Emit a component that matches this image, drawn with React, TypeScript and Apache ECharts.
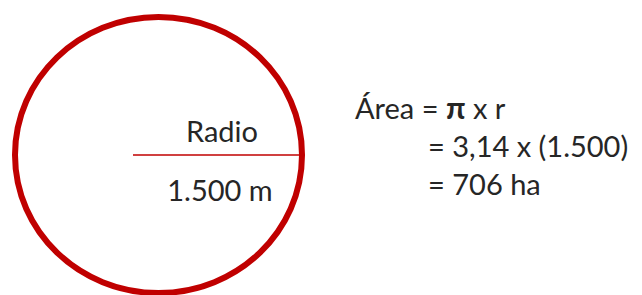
import React, { useEffect, useRef } from "react";
import * as echarts from "echarts";

// Diagram content
const radiusLabel = "Radio";
const radiusValue = "1.500 m";
const formulaLines = ["Área = {pi|π} x r", "= 3,14 x (1.500)", "= 706 ha"];

const RED = "#C00000";
const TEXT = "#262626";
const FONT = "Lato";

export default function App() {
  const ref = useRef<HTMLDivElement>(null);
  useEffect(() => {
    document.body.style.margin = "0";
    if (!ref.current) return;
    const chart = echarts.init(ref.current, undefined, { renderer: "svg" });
    chart.setOption({
      animation: false,
      backgroundColor: "#ffffff",
      graphic: [
        {
          type: "ellipse",
          shape: { cx: 158.5, cy: 155, rx: 143.5, ry: 138 },
          style: { fill: "none", stroke: RED, lineWidth: 6 },
        },
        {
          type: "line",
          shape: { x1: 133, y1: 155, x2: 302, y2: 155 },
          style: { stroke: RED, lineWidth: 1.5 },
        },
        {
          type: "text",
          x: 222,
          y: 130,
          style: {
            text: radiusLabel,
            fill: TEXT,
            font: `29px ${FONT}`,
            align: "center",
            verticalAlign: "middle",
          },
        },
        {
          type: "text",
          x: 220,
          y: 189,
          style: {
            text: radiusValue,
            fill: TEXT,
            font: `29px ${FONT}`,
            align: "center",
            verticalAlign: "middle",
          },
        },
        {
          type: "text",
          x: 355,
          y: 107,
          style: {
            text: formulaLines[0],
            fill: TEXT,
            font: `29px ${FONT}`,
            align: "left",
            verticalAlign: "middle",
            rich: {
              pi: { fontFamily: FONT, fontSize: 31, fontWeight: "bold", fill: TEXT },
            },
          },
        },
        {
          type: "text",
          x: 428,
          y: 145,
          style: {
            text: formulaLines[1],
            fill: TEXT,
            font: `29px ${FONT}`,
            align: "left",
            verticalAlign: "middle",
          },
        },
        {
          type: "text",
          x: 428,
          y: 183,
          style: {
            text: formulaLines[2],
            fill: TEXT,
            font: `29px ${FONT}`,
            align: "left",
            verticalAlign: "middle",
          },
        },
      ],
    });
    return () => chart.dispose();
  }, []);
  return <div ref={ref} style={{ width: 642, height: 295 }} />;
}
